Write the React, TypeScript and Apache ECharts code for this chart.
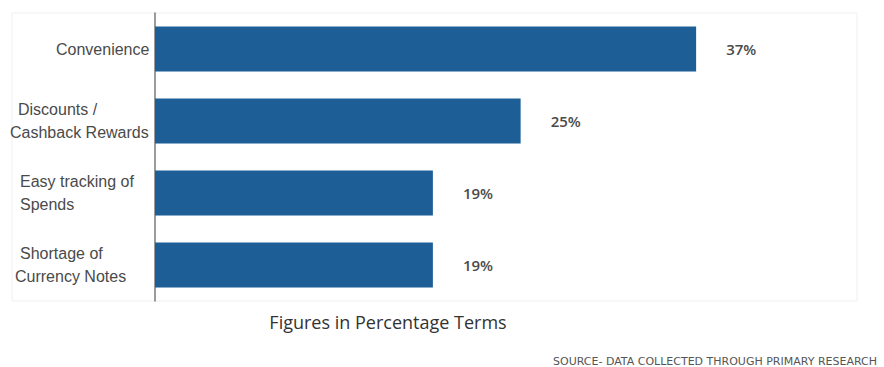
import React, { useEffect, useRef } from "react";
import * as echarts from "echarts";

const categories: string[] = [
  "Convenience",
  "Discounts /\nCashback Rewards",
  "Easy tracking of\nSpends",
  "Shortage of\nCurrency Notes",
];
const values: number[] = [37, 25, 19, 19];
const xAxisTitle = "Figures in Percentage Terms";
const sourceNote = "SOURCE- DATA COLLECTED THROUGH PRIMARY RESEARCH";

// left offsets (px) of each label line, keyed by category index
const lineIndent: number[][] = [[46], [8, 0], [10, 10], [10, 5]];

export default function App() {
  const ref = useRef<HTMLDivElement>(null);
  useEffect(() => {
    if (!ref.current) return;
    const chart = echarts.init(ref.current, null, { renderer: "svg" });
    const rich: Record<string, any> = {};
    lineIndent.forEach((arr, i) =>
      arr.forEach((p, j) => {
        rich[`l${i}_${j}`] = {
          fontSize: 16,
          fontFamily: "Liberation Sans",
          color: "#4a4a4a",
          lineHeight: 23,
          padding: [0, 0, 0, p],
        };
      })
    );
    chart.setOption({
      animation: false,
      backgroundColor: "#ffffff",
      grid: { left: 155, top: 13, width: 702, height: 288, containLabel: false },
      xAxis: {
        type: "value",
        min: 0,
        max: 48,
        axisLine: { show: false },
        axisTick: { show: false },
        axisLabel: { show: false },
        splitLine: { show: false },
      },
      yAxis: {
        type: "category",
        inverse: true,
        data: categories,
        axisLine: { show: true, lineStyle: { color: "#7a7a7a", width: 1.5 } },
        axisTick: { show: false },
        axisLabel: {
          align: "left",
          margin: 145,
          formatter: (v: string) => {
            const i = categories.indexOf(v);
            return v
              .split("\n")
              .map((line, j) => `{l${i}_${j}|${line}}`)
              .join("\n");
          },
          rich,
        },
      },
      series: [
        {
          type: "bar",
          data: values,
          barWidth: 45,
          itemStyle: { color: "#1c5e95" },
          label: {
            show: true,
            position: "right",
            distance: 30,
            formatter: "{c}%",
            fontSize: 15,
            fontWeight: 600,
            fontFamily: "Open Sans",
            color: "#4a4a4a",
          },
        },
      ],
      graphic: [
        {
          type: "rect",
          silent: true,
          z: -1,
          shape: { x: 12, y: 13, width: 845, height: 288 },
          style: { fill: "none", stroke: "#f0f0f0", lineWidth: 1 },
        },
        {
          type: "text",
          x: 388,
          y: 322,
          style: {
            text: xAxisTitle,
            fontSize: 18,
            fontFamily: "Open Sans",
            fill: "#333333",
            align: "center",
            verticalAlign: "middle",
          },
        },
        {
          type: "text",
          x: 553,
          y: 361,
          style: {
            text: sourceNote,
            fontSize: 11,
            fontFamily: "DejaVu Sans",
            fill: "#555555",
            align: "left",
            verticalAlign: "middle",
          },
        },
      ],
    });
    return () => chart.dispose();
  }, []);
  return (
    <div
      ref={ref}
      style={{ position: "absolute", left: 0, top: 0, width: 884, height: 367 }}
    />
  );
}
